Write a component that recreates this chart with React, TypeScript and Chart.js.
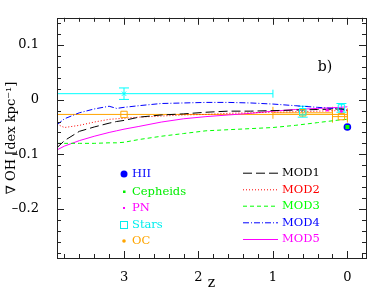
import React, { useEffect, useRef } from "react";
import { Chart, registerables } from "chart.js";
Chart.register(...registerables);

// ---- model curves (gradient vs redshift) ----
const modZ = [3.9, 3.8, 3.6, 3.4, 3.2, 3.1, 3.0, 2.8, 2.5, 2.2, 1.9, 1.6, 1.3, 1.0, 0.7, 0.4, 0.1, 0.0];
const mod1 = [-0.088, -0.075, -0.058, -0.05, -0.043, -0.04, -0.038, -0.032, -0.028, -0.026, -0.023, -0.021, -0.021, -0.02, -0.019, -0.018, -0.017, -0.017];
const mod2 = [-0.045, -0.051, -0.047, -0.041, -0.036, -0.035, -0.034, -0.032, -0.03, -0.028, -0.027, -0.025, -0.024, -0.023, -0.022, -0.021, -0.02, -0.02];
const mod3 = [-0.08, -0.08, -0.08, -0.08, -0.079, -0.079, -0.078, -0.073, -0.067, -0.062, -0.057, -0.055, -0.053, -0.051, -0.047, -0.042, -0.037, -0.036];
const mod4 = [-0.046, -0.035, -0.024, -0.017, -0.012, -0.016, -0.014, -0.011, -0.007, -0.006, -0.005, -0.005, -0.006, -0.008, -0.011, -0.014, -0.017, -0.019];
const mod5 = [-0.092, -0.085, -0.075, -0.067, -0.06, -0.057, -0.054, -0.049, -0.041, -0.035, -0.031, -0.028, -0.025, -0.021, -0.018, -0.016, -0.014, -0.013];
const modNames = ["MOD1", "MOD2", "MOD3", "MOD4", "MOD5"];
const modColors = ["#000000", "#ff0000", "#00ff00", "#0000ff", "#ff00ff"];
const modDashes = [[9, 4], [1, 2], [4, 3], [6, 2, 1, 2], []];

// ---- observational points ----
const hiiZ = [0];
const hiiY = [-0.05];
const cephZ = [0];
const cephY = [-0.05];
const pnZ = [0.27, 0.08];
const pnY = [-0.019, -0.021];
const starsZ = [3, 0.6, 0.08];
const starsY = [0.011, -0.022, -0.015];
const starsYErr = [0.0105, 0.01, 0.008];
const starsXHigh = [4.5, 0.6, 0.08];
const starsXLow = [1, 0.6, 0.08];
const ocZ = [3, 0.6, 0.08];
const ocY = [-0.027, -0.024, -0.031];
const ocXHigh = [4.5, 1.0, 0.2];
const ocXLow = [0, 0.2, 0];

const obsNames = ["HII", "Cepheids", "PN", "Stars", "OC"];
const obsColors = ["#0000ff", "#00ee00", "#ff00ff", "#00eeee", "#ffa500"];

const xTicks = [0, 1, 2, 3];
const yTicks = [-0.2, -0.1, 0, 0.1];

const FONT = "'DejaVu Serif', serif";

export default function App() {
  const ref = useRef<HTMLCanvasElement | null>(null);
  useEffect(() => {
    const canvas = ref.current!;
    const pts = (zs: number[], ys: number[]) => zs.map((z, i) => ({ x: z, y: ys[i] }));
    const mods = [mod1, mod2, mod3, mod4, mod5];

    const errPlugin = {
      id: "errbars",
      beforeDatasetsDraw(chart: any) {
        const { ctx, chartArea: a, scales } = chart;
        const xs = scales.x, ys = scales.y;
        ctx.save();
        ctx.beginPath();
        ctx.rect(a.left, a.top, a.right - a.left, a.bottom - a.top);
        ctx.clip();
        ctx.lineWidth = 1;
        // stars
        ctx.strokeStyle = "#00ffff";
        starsZ.forEach((z, i) => {
          const px = xs.getPixelForValue(z);
          const py = ys.getPixelForValue(starsY[i]);
          const x1 = xs.getPixelForValue(starsXHigh[i]);
          const x2 = xs.getPixelForValue(starsXLow[i]);
          const yt = ys.getPixelForValue(starsY[i] + starsYErr[i]);
          const yb = ys.getPixelForValue(starsY[i] - starsYErr[i]);
          ctx.beginPath();
          if (x2 - x1 > 1) {
            ctx.moveTo(x1, py); ctx.lineTo(x2, py);
            ctx.moveTo(x2, py - 4); ctx.lineTo(x2, py + 4);
          }
          ctx.moveTo(px, yt); ctx.lineTo(px, yb);
          ctx.moveTo(px - 5, yt); ctx.lineTo(px + 5, yt);
          ctx.moveTo(px - 5, yb); ctx.lineTo(px + 5, yb);
          ctx.stroke();
        });
        // OC
        ctx.strokeStyle = "#ffa500";
        ocZ.forEach((z, i) => {
          const py = ys.getPixelForValue(ocY[i]);
          const x1 = xs.getPixelForValue(ocXHigh[i]);
          const x2 = xs.getPixelForValue(ocXLow[i]);
          ctx.beginPath();
          ctx.moveTo(x1, py); ctx.lineTo(x2, py);
          ctx.moveTo(x1, py - 6); ctx.lineTo(x1, py + 6);
          ctx.moveTo(x2, py - 6); ctx.lineTo(x2, py + 6);
          ctx.stroke();
        });
        ctx.restore();
      },
    };

    const framePlugin = {
      id: "frame",
      afterDraw(chart: any) {
        const { ctx, chartArea: a, scales } = chart;
        const xs = scales.x, ys = scales.y;
        ctx.save();
        ctx.strokeStyle = "#222";
        ctx.lineWidth = 1;
        ctx.strokeRect(Math.round(a.left) + 0.5, Math.round(a.top) + 0.5, Math.round(a.right - a.left), Math.round(a.bottom - a.top));
        ctx.beginPath();
        for (let i = -2; i <= 20; i++) {
          const v = i * 0.2;
          if (v < xs.min || v > xs.max) continue;
          const px = Math.round(xs.getPixelForValue(v)) + 0.5;
          const len = i % 5 === 0 ? 7 : 4;
          ctx.moveTo(px, a.bottom); ctx.lineTo(px, a.bottom - len);
          ctx.moveTo(px, a.top); ctx.lineTo(px, a.top + len);
        }
        for (let i = -15; i <= 8; i++) {
          const v = i * 0.02;
          if (v < ys.min || v > ys.max) continue;
          const py = Math.round(ys.getPixelForValue(v)) + 0.5;
          const len = i % 5 === 0 ? 7 : 4;
          ctx.moveTo(a.left, py); ctx.lineTo(a.left + len, py);
          ctx.moveTo(a.right, py); ctx.lineTo(a.right - len, py);
        }
        ctx.stroke();

        ctx.fillStyle = "#000";
        ctx.textBaseline = "alphabetic";
        ctx.textAlign = "center";
        // x-axis title
        ctx.font = `14px ${FONT}`;
        ctx.fillText("z", (a.left + a.right) / 2, 287);
        // "b)" label
        ctx.textBaseline = "middle";
        ctx.fillText("b)", 325, 67);

        // observational legend
        ctx.font = `11.5px ${FONT}`;
        ctx.textAlign = "left";
        const lx = xs.getPixelForValue(3);
        const rowsL = [174, 191.5, 208, 225, 241];
        obsNames.forEach((n, i) => {
          const y = rowsL[i];
          ctx.fillStyle = obsColors[i];
          ctx.strokeStyle = obsColors[i];
          if (i === 0) { ctx.beginPath(); ctx.arc(lx, y, 3.5, 0, Math.PI * 2); ctx.fill(); }
          if (i === 1) ctx.fillRect(lx - 1, y - 1, 2.5, 2.5);
          if (i === 2) ctx.fillRect(lx - 1, y - 1, 2, 2);
          if (i === 3) ctx.strokeRect(lx - 3.5, y - 3.5, 7, 7);
          if (i === 4) { ctx.beginPath(); ctx.arc(lx, y, 1.8, 0, Math.PI * 2); ctx.fill(); }
          ctx.fillText(n, lx + 8, y + 0.5);
        });
        // model legend
        const rowsR = [172.7, 189.3, 205.7, 222.3, 239];
        modNames.forEach((n, i) => {
          const y = rowsR[i];
          ctx.strokeStyle = modColors[i];
          ctx.setLineDash(modDashes[i]);
          ctx.beginPath();
          ctx.moveTo(243, y + 0.5); ctx.lineTo(278, y + 0.5);
          ctx.stroke();
          ctx.setLineDash([]);
          ctx.fillStyle = modColors[i];
          ctx.fillText(n, 282, y + 0.5);
        });
        ctx.restore();
      },
    };

    const chart = new Chart(canvas, {
      type: "scatter",
      data: {
        datasets: [
          { label: "Cepheids", data: pts(cephZ, cephY), pointStyle: "rect", pointRadius: 2.8, backgroundColor: "#00ff00", borderColor: "#00ff00", borderWidth: 0 },
          { label: "HII", data: pts(hiiZ, hiiY), pointStyle: "circle", pointRadius: 3.8, backgroundColor: "#0000ff", borderColor: "#0000ff", borderWidth: 0 },
          { label: "PN", data: pts(pnZ, pnY), pointStyle: "circle", pointRadius: 1.5, backgroundColor: "#ff00ff", borderColor: "#ff00ff", borderWidth: 0 },
          { label: "Stars", data: pts(starsZ, starsY), pointStyle: ["crossRot", "rect", "rect"] as any, pointRadius: [3, 4.5, 4.5] as any, backgroundColor: "rgba(0,0,0,0)", borderColor: "#00ffff", borderWidth: 1 },
          { label: "OC", data: pts(ocZ, ocY), pointStyle: "rect", pointRadius: 4.5, backgroundColor: "rgba(0,0,0,0)", borderColor: "#ffa500", borderWidth: 1 },
          ...mods.map((m, i) => ({
            label: modNames[i],
            data: pts(modZ, m),
            showLine: true,
            borderColor: modColors[i],
            borderDash: modDashes[i],
            borderWidth: 1,
            pointRadius: 0,
            tension: 0,
          })),
        ],
      },
      options: {
        animation: false,
        responsive: false,
        events: [],
        layout: { padding: { left: 0, right: 23, top: 14, bottom: 0 } },
        plugins: { legend: { display: false }, tooltip: { enabled: false } },
        scales: {
          x: {
            type: "linear",
            reverse: true,
            min: -0.25,
            max: 3.9,
            grid: { display: false },
            border: { display: false },
            afterBuildTicks: (s: any) => { s.ticks = xTicks.map((v) => ({ value: v })); },
            afterFit: (s: any) => { s.height = 33; },
            ticks: { color: "#000", font: { family: FONT, size: 13 }, padding: 4, callback: (v: any) => String(v) },
            title: { display: false },
          },
          y: {
            type: "linear",
            min: -0.29,
            max: 0.15,
            grid: { display: false },
            border: { display: false },
            afterBuildTicks: (s: any) => { s.ticks = yTicks.map((v) => ({ value: v })); },
            afterFit: (s: any) => { s.width = 57; },
            ticks: {
              color: "#000",
              font: { family: FONT, size: 13 },
              padding: 10,
              callback: (v: any) => {
                const r = Math.round(v * 10) / 10;
                return r < 0 ? "\u2013" + Math.abs(r) : String(r);
              },
            },
            title: { display: true, text: "\u2207 OH [dex kpc\u207B\u00B9]", color: "#000", font: { family: FONT, size: 13 }, padding: { top: 4, bottom: 0 } },
          },
        },
      },
      plugins: [errPlugin, framePlugin],
    });
    return () => chart.destroy();
  }, []);
  return (
    <div style={{ position: "absolute", left: 0, top: 0, width: 389, height: 291, background: "#fff" }}>
      <canvas ref={ref} width={389} height={291} style={{ display: "block" }} />
    </div>
  );
}
